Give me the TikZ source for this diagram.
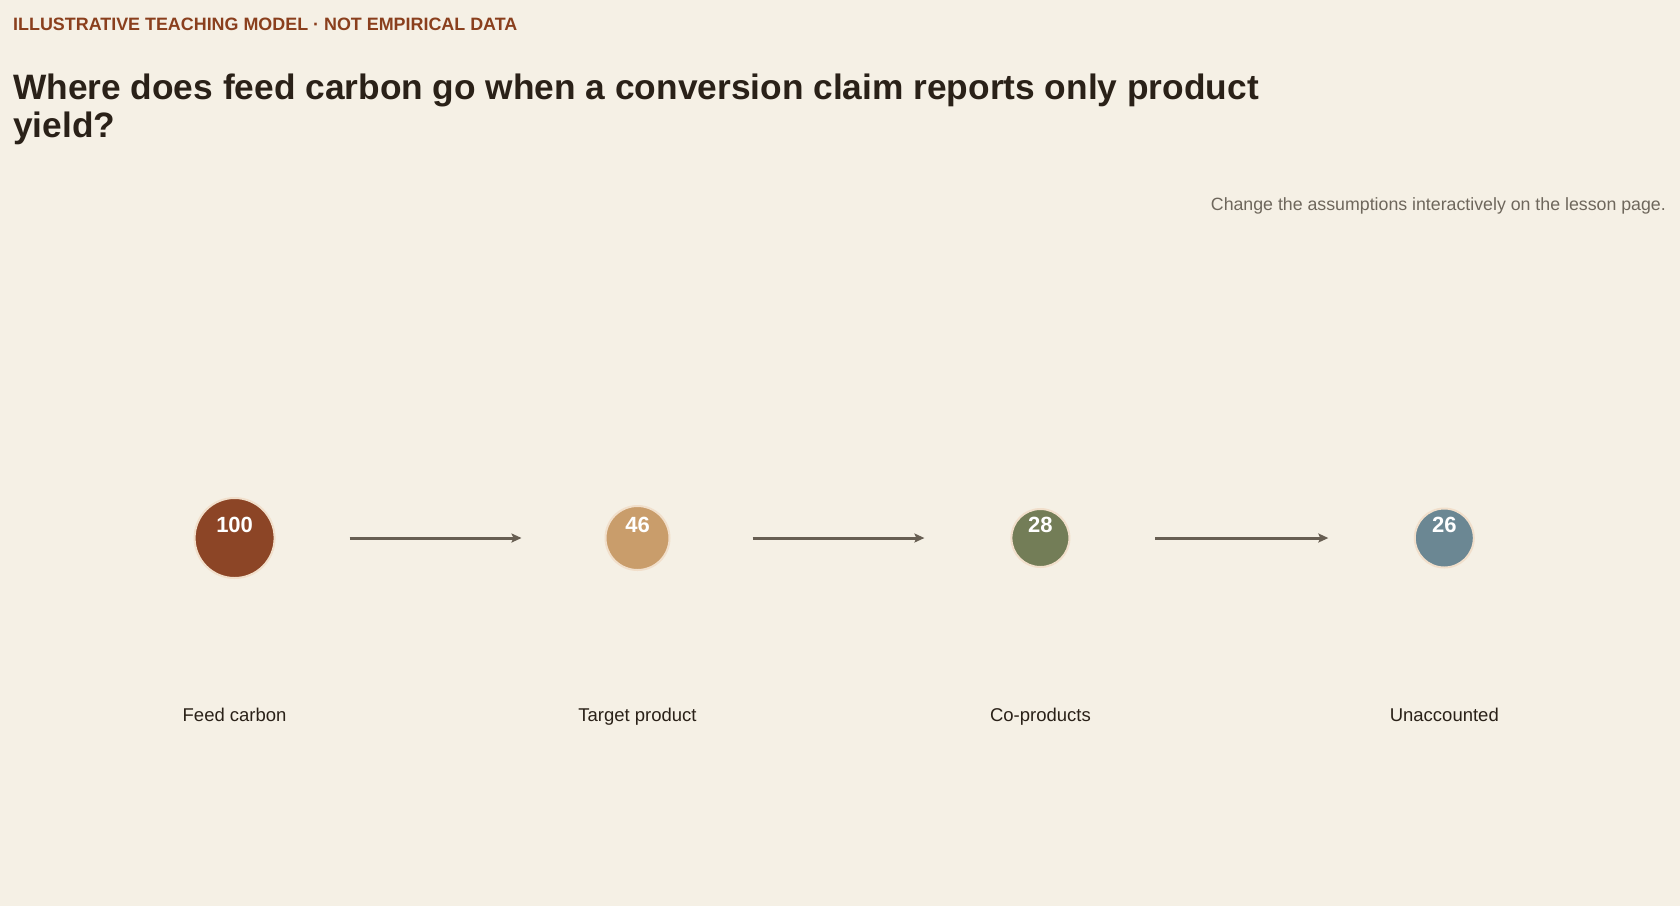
\documentclass[tikz,border=0pt]{standalone}
\usepackage{fontspec}
\setmainfont{Liberation Sans}
\usepackage{xcolor}
\usetikzlibrary{positioning}
\usetikzlibrary{arrows.meta}
\definecolor{paper}{HTML}{F5F0E5}
\definecolor{rust}{HTML}{8C4526}
\definecolor{sand}{HTML}{C99D6B}
\definecolor{olive}{HTML}{737D57}
\definecolor{slate}{HTML}{6B8793}
\definecolor{ring}{HTML}{F1DFCB}
\definecolor{ink}{HTML}{2A2118}
\definecolor{kicker}{HTML}{8A3F1D}
\definecolor{muted}{HTML}{6E675C}
\definecolor{flowgray}{HTML}{675E52}

\begin{document}
\begin{tikzpicture}[x=1pt,y=1pt,
  stock/.style={circle,draw=ring,line width=2pt,inner sep=0pt},
  amount/.style={text=white,font=\fontsize{22}{24}\selectfont\bfseries,inner sep=0pt},
  caption/.style={text=ink,font=\fontsize{18.5}{20}\selectfont,anchor=base,inner sep=0pt},
  flow/.style={draw=flowgray,line width=3pt,-{Stealth[length=10pt,width=9pt,inset=2pt]},
    shorten <=115pt,shorten >=116pt}]
\useasboundingbox[fill=paper] (0,0) rectangle (1680,-906);
% headings
\node[anchor=base west,inner sep=0pt,text=kicker,font=\fontsize{17.9}{20}\selectfont\bfseries] (kick) at (13,-30) {ILLUSTRATIVE TEACHING MODEL · NOT EMPIRICAL DATA};
\node[anchor=base west,inner sep=0pt,text=ink,align=left,font=\fontsize{35.3}{38.5}\selectfont\bfseries] (title) at (13,-137.5) {Where does feed carbon go when a conversion claim reports only product\\yield?};
\node[anchor=base east,inner sep=0pt,text=muted,font=\fontsize{17.75}{20}\selectfont] (note) at (1666,-210) {Change the assumptions interactively on the lesson page.};
% stocks
\node[stock,fill=rust,minimum size=80pt] (c1) at (234.6,-538) {};
\node[stock,fill=sand,minimum size=64pt] (c2) at (637.5,-538) {};
\node[stock,fill=olive,minimum size=58pt] (c3) at (1040.4,-538) {};
\node[stock,fill=slate,minimum size=59pt] (c4) at (1444.3,-538) {};
\node[amount] (n1) at ([yshift=13]c1.center) {100};
\node[amount] (n2) at ([yshift=13]c2.center) {46};
\node[amount] (n3) at ([yshift=13]c3.center) {28};
\node[amount] (n4) at ([yshift=13]c4.center) {26};
\node[caption] (l1) at (234.6,-721) {Feed carbon};
\node[caption] (l2) at (637.5,-721) {Target product};
\node[caption] (l3) at (1040.4,-721) {Co-products};
\node[caption] (l4) at (1444.3,-721) {Unaccounted};
% flows
\draw[flow] (c1.center) -- (c2.center);
\draw[flow] (c2.center) -- (c3.center);
\draw[flow] (c3.center) -- (c4.center);
\end{tikzpicture}
\end{document}
